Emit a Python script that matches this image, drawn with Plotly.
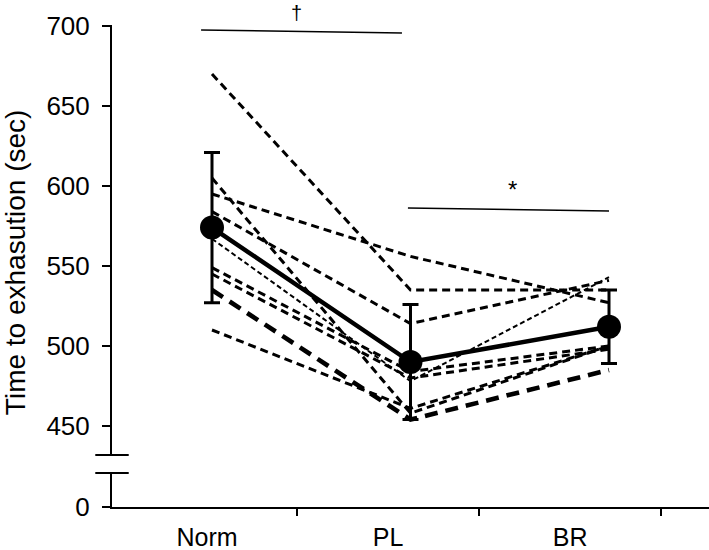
import plotly.graph_objects as go

# ---- data ----
conditions = ["Norm", "PL", "BR"]
cond_pos = [0, 1, 2]
subj_norm = [670, 605, 595, 584, 567, 549, 545, 535, 510]
subj_pl = [535, 458, 556, 514, 478, 484, 480, 454, 461]
subj_br = [535, 500, 527, 541, 543, 500, 498, 485, 500]
subj_style = ["mid", "mid", "mid", "mid", "fine", "mid", "mid", "heavy", "mid"]
mean_vals = [574, 490, 512]
sd_vals = [47, 36, 23]
y_ticks = [450, 500, 550, 600, 650, 700]

FONT = "Liberation Sans, Arial, sans-serif"
styles = {
    "mid": dict(width=3, dash="8px,5px"),
    "fine": dict(width=2, dash="5px,3px"),
    "heavy": dict(width=4.6, dash="13px,8px"),
}

fig = go.Figure()
for a, b, c, s in zip(subj_norm, subj_pl, subj_br, subj_style):
    fig.add_trace(go.Scatter(
        x=cond_pos, y=[a, b, c], mode="lines",
        line=dict(color="black", **styles[s]),
        xaxis="x", yaxis="y", showlegend=False, hoverinfo="skip"))

fig.add_trace(go.Scatter(
    x=cond_pos, y=mean_vals, mode="lines+markers",
    line=dict(color="black", width=4.5),
    marker=dict(color="black", size=24),
    error_y=dict(type="data", array=sd_vals, visible=True,
                 color="black", thickness=3, width=8),
    xaxis="x", yaxis="y", showlegend=False))

# empty trace so the lower (broken) axis subplot exists
fig.add_trace(go.Scatter(x=[], y=[], xaxis="x", yaxis="y2", showlegend=False))

label_pos = [-0.025, 0.887, 1.804]
tick_pos = [0.428, 1.345, 2.262]

fig.update_layout(
    width=709, height=550,
    margin=dict(l=112, r=0, t=25, b=43, autoexpand=False),
    paper_bgcolor="white", plot_bgcolor="white",
    font=dict(family=FONT, size=26, color="black"),
    xaxis=dict(range=[-0.5038, 2.5038], anchor="y2", showline=True,
               linecolor="black", linewidth=2, showgrid=False, zeroline=False,
               tickvals=label_pos, ticktext=conditions, ticks="",
               ticklabelstandoff=7, automargin=False,
               tickfont=dict(size=25),
               minor=dict(tickvals=tick_pos, ticks="outside", ticklen=7,
                          tickwidth=2, tickcolor="black")),
    yaxis=dict(domain=[0.1079, 1], range=[431.875, 700.625], showline=True,
               linecolor="black", linewidth=2, showgrid=False, zeroline=False,
               tickvals=y_ticks, ticks="outside", ticklen=8, tickwidth=2,
               tickcolor="black", ticklabelstandoff=7, automargin=False),
    yaxis2=dict(domain=[0, 0.0705], range=[0, 30], showline=True,
                linecolor="black", linewidth=2, showgrid=False, zeroline=False,
                tickvals=[0], ticks="outside", ticklen=8, tickwidth=2,
                tickcolor="black", ticklabelstandoff=7, automargin=False),
)

# axis break marks
for yp in [0.1079, 0.0705]:
    fig.add_shape(type="line", xref="paper", yref="paper",
                  x0=-0.028, x1=0.028, y0=yp, y1=yp,
                  line=dict(color="black", width=2))

# significance brackets
fig.add_shape(type="line", xref="x", yref="y", x0=-0.055, x1=0.957,
              y0=697.5, y1=695.6, line=dict(color="black", width=1.5))
fig.add_shape(type="line", xref="x", yref="y", x0=0.987, x1=2.0,
              y0=586.3, y1=584.4, line=dict(color="black", width=1.5))
fig.add_annotation(x=0.428, y=1.025, xref="x", yref="paper", text="†",
                   showarrow=False, font=dict(size=20, color="black"),
                   yanchor="middle")
fig.add_annotation(x=1.516, y=598, xref="x", yref="y", text="*",
                   showarrow=False, font=dict(size=24), yanchor="middle")

# y axis title
fig.add_annotation(x=(15 - 112) / 597, y=0.508, xref="paper", yref="paper",
                   text="Time to exhasution (sec)", textangle=-90,
                   showarrow=False, font=dict(size=28),
                   xanchor="center", yanchor="middle")

fig.write_html("out.html",
               config={"displayModeBar": False},
               post_script="document.body.style.margin='0';")
